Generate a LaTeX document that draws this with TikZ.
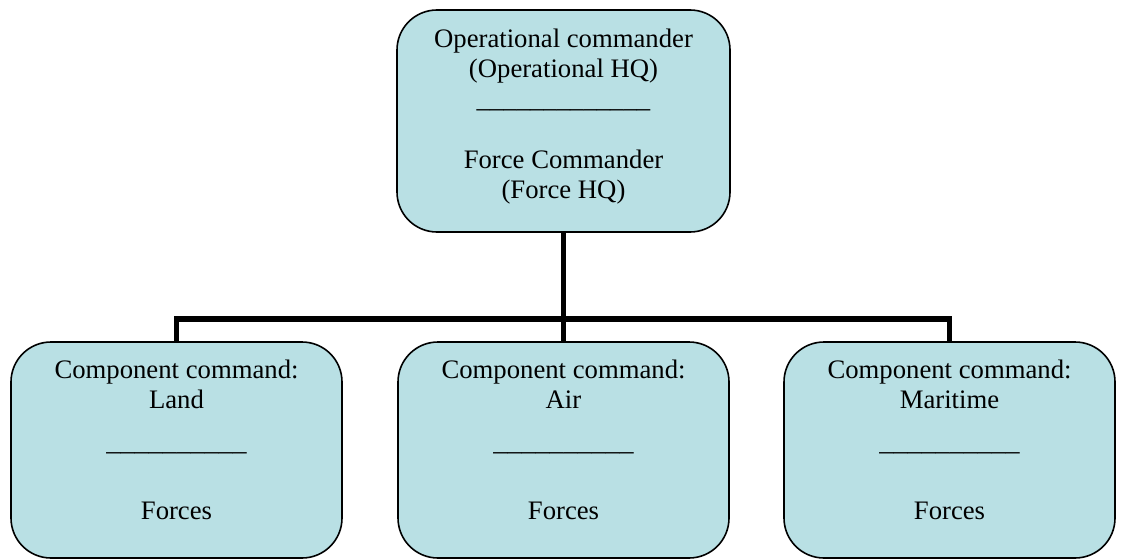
\documentclass[tikz,border=0pt]{standalone}
\usepackage{fontspec}
\setmainfont{LiberationSerif}[Extension=.ttf,UprightFont=*-Regular,BoldFont=*-Bold]
\definecolor{boxfill}{RGB}{185,224,228}
\begin{document}
\begin{tikzpicture}[x=1pt,y=-1pt,
  box/.style={draw=black,line width=1.6pt,fill=boxfill,rounded corners=40pt,inner sep=0pt},
  lbl/.style={anchor=base,inner sep=0pt,font=\fontsize{26.7}{30}\selectfont},
  conn/.style={draw=black,line width=5.5pt}]
\useasboundingbox (0,0) rectangle (1123,559);
% boxes
\node[box,minimum width=333pt,minimum height=222pt] (top) at (563.5,121) {};
\node[box,minimum width=331pt,minimum height=216pt] (land) at (176.5,450) {};
\node[box,minimum width=331pt,minimum height=216pt] (air) at (563.5,450) {};
\node[box,minimum width=331pt,minimum height=216pt] (sea) at (949.5,450) {};
% connectors
\coordinate (bus) at (563.5,319);
\draw[conn] (top.south) -- (bus);
\draw[conn] (land.north) |- (bus) -| (sea.north);
\draw[conn] (air.north) -- (bus);
% top texts
\node[lbl] (t1) at (563.5,48) {Operational commander};
\node[lbl] (t2) at (563.5,78) {(Operational HQ)};
\node[lbl] (t3) at (563.5,108) {\_\_\_\_\_\_\_\_\_\_\_\_\_};
\node[lbl] (t4) at (563.5,168) {Force Commander};
\node[lbl] (t5) at (563.5,198) {(Force HQ)};
% bottom texts
\foreach \n/\x/\w in {l/176.5/Land,a/563.5/Air,m/949.5/Maritime}{
  \node[lbl] (\n1) at (\x,378) {Component command:};
  \node[lbl] (\n2) at (\x,408) {\w};
  \node[lbl] (\n3) at (\x,450) {\scalebox{1.05}[1]{\_\_\_\_\_\_\_\_\_\_}};
  \node[lbl] (\n4) at (\x,519) {Forces};
}
\end{tikzpicture}
\end{document}
